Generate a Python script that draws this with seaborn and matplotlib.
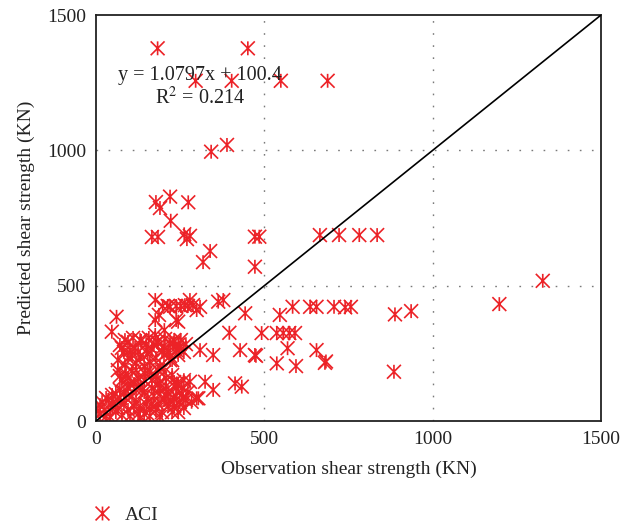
import matplotlib
matplotlib.use("Agg")
import matplotlib.pyplot as plt
from matplotlib.path import Path
import numpy as np
import pandas as pd
import seaborn as sns

# Observed vs. predicted shear strength (KN), ACI model
observed = [
    183, 451, 296, 403, 549, 688, 342, 389, 178, 220, 190, 274, 222,
    166, 184, 262, 270, 279, 472, 485, 665, 722, 782, 835, 472, 318, 339,
    546, 584, 636, 655, 707, 740, 757, 888, 936, 492, 537, 556, 574, 591,
    475, 569, 655, 537, 594, 680, 683, 885, 1198, 1327,
    176, 198, 213, 238, 252, 273, 279, 299, 309, 363, 378, 443, 176, 187,
    238, 203, 176, 244, 220, 396, 61, 47, 288, 264,
    86, 110, 134, 157, 181, 205, 229, 252, 267, 232,
    244, 309, 348, 428, 472, 220, 279, 324, 348, 299, 413, 433, 240, 259,
    304, 284, 230,
    71, 95, 116, 131, 149, 166, 184, 202, 220, 238, 107, 131, 154, 178,
    202, 226, 83, 65, 86, 119, 143, 160, 190, 214, 249,
    65, 89, 107, 125, 146, 166, 77, 101, 131, 154, 178, 190, 208, 226,
    244, 261,
    12, 24, 36, 48, 59, 71, 83, 95, 107, 119, 131, 143, 154, 166, 178,
    190, 202, 214, 226, 238, 249, 261, 48, 71, 95, 119, 143, 166, 190,
    214, 238, 101, 131, 160, 190, 42, 12, 30,
    77, 101, 125, 149, 172, 196, 220, 244, 261, 95, 119, 143, 160, 184,
    202, 71, 95, 113, 137,
    6, 18, 30, 53, 65, 77, 89, 113, 125, 149, 160, 172, 184, 196, 208,
    220, 232, 244, 255, 267, 184, 208, 232, 255, 273, 59, 83,
]
predicted = [
    1377, 1377, 1257, 1257, 1257, 1257, 995, 1020, 809, 829, 787, 808, 740,
    680, 680, 690, 672, 684, 681, 681, 687, 687, 687, 687, 570, 587, 628,
    392, 422, 422, 422, 422, 420, 422, 394, 406, 325, 325, 325, 325, 325,
    241, 269, 262, 213, 203, 215, 220, 182, 432, 518,
    447, 425, 425, 425, 425, 425, 447, 410, 422, 441, 447, 398, 373, 392,
    373, 336, 318, 367, 422, 326, 385, 330, 428, 428,
    299, 307, 296, 307, 292, 303, 288, 299, 284, 299,
    281, 262, 244, 262, 244, 225, 145, 145, 115, 84, 139, 127, 139, 84,
    84, 71, 84,
    281, 292, 270, 299, 284, 266, 292, 277, 288, 262, 244, 236, 248, 233,
    244, 225, 255, 225, 207, 214, 203, 218, 203, 255, 270,
    188, 174, 185, 159, 174, 151, 151, 137, 133, 188, 166, 140, 159, 170,
    137, 151,
    59, 41, 78, 55, 33, 85, 63, 41, 92, 70, 48, 26, 85, 63, 41,
    100, 78, 55, 33, 92, 70, 48, 96, 115, 122, 115, 107, 122, 122,
    107, 122, 18, 11, 18, 15, 15, 26, 85,
    270, 262, 255, 262, 281, 259, 240, 244, 255, 233, 188, 151, 181, 188,
    181, 166, 159, 137, 115,
    37, 70, 18, 70, 48, 22, 85, 55, 26, 63, 41, 92, 63, 33, 92,
    78, 55, 33, 100, 78, 137, 129, 144, 122, 107, 100, 107,
]
model = ["ACI"] * len(observed)

# Reference line y = x
diag_x = [0, 1500]
diag_y = [0, 1500]

axis_ticks = [0, 500, 1000, 1500]
fit_text = "y = 1.0797x + 100.4\nR$^2$ = 0.214"

df = pd.DataFrame({"Observed": observed, "Predicted": predicted, "Model": model})
line_df = pd.DataFrame({"x": diag_x, "y": diag_y})

sns.set_theme(style="white")
plt.rcParams["font.family"] = ["Liberation Serif", "DejaVu Serif"]
plt.rcParams["mathtext.fontset"] = "stix"

# Asterisk-like marker: an X crossed by a vertical bar
star = Path(
    [(-1.0, -1.0), (1.0, 1.0), (-1.0, 1.0), (1.0, -1.0), (0.0, -1.0), (0.0, 1.0)],
    [Path.MOVETO, Path.LINETO, Path.MOVETO, Path.LINETO, Path.MOVETO, Path.LINETO],
)

red = "#ec2227"

fig = plt.figure(figsize=(6.21, 5.27), dpi=100)
ax = fig.add_axes([0.1546, 0.2011, 0.8132, 0.7704])

for v in [500, 1000]:
    ax.axvline(v, color="#7a7a7a", lw=1.0, ls=(0, (1.2, 7.5)), zorder=0)
    ax.axhline(v, color="#7a7a7a", lw=1.0, ls=(0, (1.2, 7.5)), zorder=0)

sns.scatterplot(
    data=df, x="Observed", y="Predicted", hue="Model", palette={"ACI": red},
    marker=star, s=100, linewidth=1.2, edgecolor=red, ax=ax, zorder=2,
)
sns.lineplot(data=line_df, x="x", y="y", color="black", lw=1.2, ax=ax,
             zorder=3, legend=False)

ax.set_xlim(0, 1500)
ax.set_ylim(0, 1500)
ax.set_xticks(axis_ticks)
ax.set_yticks(axis_ticks)
ax.tick_params(axis="both", length=0, labelsize=14, colors="#222222", pad=7)
ax.set_xlabel("Observation shear strength (KN)", fontsize=14, color="#222222", labelpad=9)
ax.set_ylabel("Predicted shear strength (KN)", fontsize=14, color="#222222", labelpad=9)
for sp in ax.spines.values():
    sp.set_color("#222222")
    sp.set_linewidth(1.3)

ax.text(308, 1232, fit_text, fontsize=14.5, color="#222222", ha="center",
        va="center", linespacing=1.1, zorder=4)

handles, labels = ax.get_legend_handles_labels()
ax.get_legend().remove()
fig.legend(handles, labels, loc="center left", bbox_to_anchor=(0.105, 0.023),
           frameon=False, fontsize=14, handletextpad=0.15, markerscale=1.0)

fig.savefig("out.png", dpi=100)
